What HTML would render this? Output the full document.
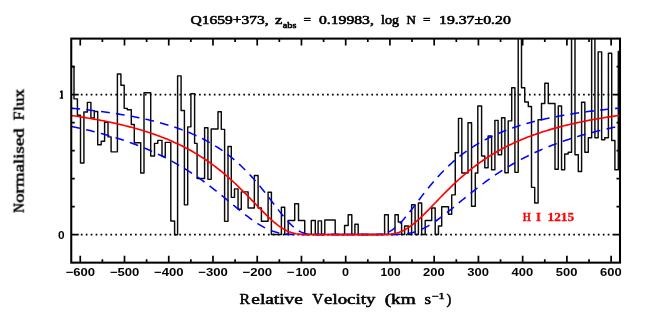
<!DOCTYPE html><html><head><meta charset="utf-8"><style>html,body{margin:0;padding:0;background:#fff}svg{display:block}</style></head><body>
<svg width="654" height="327" viewBox="0 0 654 327">
<rect width="654" height="327" fill="#fff"/>
<defs><clipPath id="c"><rect x="71.25" y="38.25" width="548.75" height="224.05"/></clipPath></defs>
<g transform="translate(0,0.35)">
<line x1="80.85" x2="609.8" y1="234.20" y2="234.20" stroke="#000" stroke-width="1.7" stroke-dasharray="1.7 3.224"/>
<line x1="80.85" x2="609.8" y1="94.20" y2="94.20" stroke="#000" stroke-width="1.7" stroke-dasharray="1.7 3.224"/>
<g clip-path="url(#c)" fill="none">
<path d="M71.25,66.10H74.00V98.50H77.40V114.80H80.50V162.60H83.90V111.70H87.40V102.00H90.90V117.50H94.30V111.10H97.70V144.30H101.20V140.90H104.60V121.90H108.00V136.50H111.10V151.50H117.40V73.60H120.90V84.90H124.20V108.00H127.30V109.30H131.30V124.20H134.30V142.30H140.70V172.70H144.00V92.40H150.70V155.60H154.50V143.00H157.80V140.00H162.00V156.00H165.30V142.00H170.80V220.60H174.60V234.30H177.60V75.50H181.10V110.20H184.40V204.50H187.70V126.50H190.90V93.40H194.60V143.00H197.10V178.20H204.60V127.30H207.90V179.00H211.20V128.70H218.00V111.40H221.30V129.00H224.60V221.00H228.00V146.10H231.30V197.00H234.50V188.50H238.05V208.80H241.30V191.50H248.10V207.60H254.35V175.20H258.10V207.60H261.40V220.90H268.10V191.90H271.40V234.20H281.40V206.80H284.70V234.20H288.20V220.10H294.70V203.30H298.50V220.10H304.75V234.20H311.30V220.10H315.30V234.20H318.10V220.50H321.50V234.20H324.80V219.60H335.20V234.20H344.60V225.10H348.20V214.40H351.80V234.20H354.90V223.90H358.20V234.20H384.60V214.40H388.30V234.20H395.00V214.40H398.30V221.60H401.60V234.20H404.60V225.60H408.40V234.20H411.60V204.30H415.10V234.20H418.40V202.60H421.65V234.20H425.20V220.10H431.70V207.60H435.20V234.20H438.45V225.60H441.70V206.30H448.50V213.90H451.70V194.50H455.25V152.40H458.50V118.00H461.80V172.70H468.00V122.30H471.55V205.80H475.30V172.70H477.80V105.70H481.60V155.60H484.80V167.40H488.10V135.60H491.60V169.40H494.90V120.00H498.10V154.40H501.60V117.30H504.90V172.40H508.20V120.50H511.70V87.40H514.90V172.00H518.20V30.00H521.50V87.40H524.75V101.70H528.30V106.20H531.50V187.00H534.70V202.60H538.10V119.30H541.50V103.20H544.80V82.90H548.30V103.20H555.00V168.90H558.30V105.70H561.55V169.40H564.70V153.60H568.20V151.90H571.55V30.00H575.00V154.40H578.30V171.20H581.60V101.90H584.85V151.90H588.30V137.30H591.65V30.00H594.90V137.30H598.15V51.50H601.65V139.30H604.80V137.30H608.40V52.90H611.70V140.10H614.90V169.40H618.30V51.00H619.80" stroke="#0a0a0a" stroke-width="1.45" stroke-linejoin="round"/>
<path d="M71.28,107.84L73.05,108.01L74.82,108.19L76.59,108.36L78.36,108.54L80.13,108.72L81.90,108.91L83.67,109.10L85.44,109.29L87.21,109.48L88.98,109.68L90.74,109.89L92.51,110.10L94.28,110.31L96.05,110.52L97.82,110.74L99.59,110.97L101.36,111.20L103.13,111.43L104.90,111.67L106.67,111.91L108.44,112.16L110.21,112.42L111.98,112.67L113.75,112.94L115.52,113.21L117.29,113.48L119.06,113.77L120.83,114.05L122.60,114.35L124.37,114.65L126.14,114.95L127.91,115.27L129.68,115.58L131.45,115.91L133.22,116.25L134.98,116.59L136.75,116.94L138.52,117.30L140.29,117.66L142.06,118.04L143.83,118.42L145.60,118.81L147.37,119.21L149.14,119.62L150.91,120.04L152.68,120.47L154.45,120.91L156.22,121.36L157.99,121.83L159.76,122.30L161.53,122.78L163.30,123.28L165.07,123.79L166.84,124.31L168.61,124.85L170.38,125.40L172.15,125.96L173.92,126.54L175.69,127.14L177.46,127.74L179.22,128.37L180.99,129.01L182.76,129.67L184.53,130.34L186.30,131.04L188.07,131.75L189.84,132.48L191.61,133.24L193.38,134.01L195.15,134.80L196.92,135.62L198.69,136.46L200.46,137.32L202.23,138.21L204.00,139.12L205.77,140.06L207.54,141.02L209.31,142.01L211.08,143.03L212.85,144.08L214.62,145.16L216.39,146.27L218.16,147.42L219.93,148.59L221.70,149.80L223.46,151.05L225.23,152.33L227.00,153.65L228.77,155.01L230.54,156.40L232.31,157.84L234.08,159.32L235.85,160.83L237.62,162.40L239.39,164.00L241.16,165.65L242.93,167.34L244.70,169.08L246.47,170.87L248.24,172.70L250.01,174.58L251.78,176.50L253.55,178.47L255.32,180.48L257.09,182.54L258.86,184.63L260.63,186.77L262.40,188.95L264.17,191.16L265.94,193.40L267.70,195.67L269.47,197.97L271.24,200.27L273.01,202.59L274.78,204.91L276.55,207.22L278.32,209.51L280.09,211.77L281.86,214.00L283.63,216.17L285.40,218.27L287.17,220.29L288.94,222.21L290.71,224.02L292.48,225.70L294.25,227.23L296.02,228.62L297.79,229.84L299.56,230.89L301.33,231.78L303.10,232.50L304.87,233.06L306.64,233.48L308.41,233.77L310.18,233.97L311.94,234.08L313.71,234.15L315.48,234.18L317.25,234.19L319.02,234.20L320.79,234.20L322.56,234.20L324.33,234.20L326.10,234.20L327.87,234.20L329.64,234.20L331.41,234.20L333.18,234.20L334.95,234.20L336.72,234.20L338.49,234.20L340.26,234.20L342.03,234.20L343.80,234.20L345.57,234.20L347.34,234.20L349.11,234.20L350.88,234.20L352.65,234.20L354.42,234.20L356.18,234.20L357.95,234.20L359.72,234.20L361.49,234.20L363.26,234.20L365.03,234.20L366.80,234.20L368.57,234.20L370.34,234.20L372.11,234.20L373.88,234.18L375.65,234.16L377.42,234.10L379.19,233.99L380.96,233.81L382.73,233.53L384.50,233.13L386.27,232.59L388.04,231.90L389.81,231.04L391.58,230.01L393.35,228.81L395.12,227.45L396.89,225.94L398.66,224.28L400.42,222.49L402.19,220.58L403.96,218.58L405.73,216.49L407.50,214.33L409.27,212.11L411.04,209.85L412.81,207.56L414.58,205.25L416.35,202.94L418.12,200.62L419.89,198.31L421.66,196.02L423.43,193.74L425.20,191.50L426.97,189.28L428.74,187.10L430.51,184.95L432.28,182.85L434.05,180.78L435.82,178.77L437.59,176.79L439.36,174.86L441.13,172.98L442.90,171.14L444.66,169.35L446.43,167.60L448.20,165.90L449.97,164.24L451.74,162.63L453.51,161.07L455.28,159.54L457.05,158.06L458.82,156.62L460.59,155.21L462.36,153.85L464.13,152.53L465.90,151.24L467.67,149.99L469.44,148.77L471.21,147.59L472.98,146.44L474.75,145.33L476.52,144.24L478.29,143.19L480.06,142.16L481.83,141.17L483.60,140.20L485.37,139.26L487.14,138.34L488.90,137.45L490.67,136.59L492.44,135.74L494.21,134.92L495.98,134.13L497.75,133.35L499.52,132.59L501.29,131.86L503.06,131.14L504.83,130.45L506.60,129.77L508.37,129.11L510.14,128.46L511.91,127.84L513.68,127.23L515.45,126.63L517.22,126.05L518.99,125.48L520.76,124.93L522.53,124.39L524.30,123.87L526.07,123.36L527.84,122.86L529.61,122.37L531.38,121.90L533.14,121.43L534.91,120.98L536.68,120.54L538.45,120.11L540.22,119.68L541.99,119.27L543.76,118.87L545.53,118.48L547.30,118.09L549.07,117.72L550.84,117.35L552.61,116.99L554.38,116.64L556.15,116.30L557.92,115.96L559.69,115.63L561.46,115.31L563.23,115.00L565.00,114.69L566.77,114.39L568.54,114.10L570.31,113.81L572.08,113.53L573.85,113.25L575.62,112.98L577.38,112.71L579.15,112.45L580.92,112.20L582.69,111.95L584.46,111.71L586.23,111.47L588.00,111.23L589.77,111.00L591.54,110.78L593.31,110.56L595.08,110.34L596.85,110.13L598.62,109.92L600.39,109.72L602.16,109.51L603.93,109.32L605.70,109.12L607.47,108.94L609.24,108.75L611.01,108.57L612.78,108.39L614.55,108.21L616.32,108.04L618.09,107.87L619.86,107.70L620.08,107.76" stroke="#0000ff" stroke-width="1.55" stroke-dasharray="8.8 6.2"/>
<path d="M71.28,126.08L73.05,126.45L74.82,126.82L76.59,127.20L78.36,127.58L80.13,127.97L81.90,128.36L83.67,128.76L85.44,129.17L87.21,129.59L88.98,130.01L90.74,130.44L92.51,130.88L94.28,131.32L96.05,131.77L97.82,132.23L99.59,132.70L101.36,133.17L103.13,133.66L104.90,134.15L106.67,134.65L108.44,135.16L110.21,135.67L111.98,136.20L113.75,136.74L115.52,137.28L117.29,137.84L119.06,138.40L120.83,138.98L122.60,139.56L124.37,140.16L126.14,140.76L127.91,141.38L129.68,142.01L131.45,142.65L133.22,143.30L134.98,143.96L136.75,144.64L138.52,145.32L140.29,146.02L142.06,146.73L143.83,147.46L145.60,148.20L147.37,148.95L149.14,149.71L150.91,150.49L152.68,151.28L154.45,152.09L156.22,152.91L157.99,153.75L159.76,154.60L161.53,155.47L163.30,156.35L165.07,157.25L166.84,158.17L168.61,159.10L170.38,160.04L172.15,161.01L173.92,161.99L175.69,162.99L177.46,164.01L179.22,165.04L180.99,166.09L182.76,167.16L184.53,168.25L186.30,169.35L188.07,170.48L189.84,171.62L191.61,172.78L193.38,173.96L195.15,175.15L196.92,176.37L198.69,177.60L200.46,178.85L202.23,180.12L204.00,181.40L205.77,182.70L207.54,184.02L209.31,185.36L211.08,186.71L212.85,188.08L214.62,189.46L216.39,190.85L218.16,192.26L219.93,193.68L221.70,195.10L223.46,196.54L225.23,197.99L227.00,199.44L228.77,200.90L230.54,202.36L232.31,203.82L234.08,205.28L235.85,206.73L237.62,208.18L239.39,209.62L241.16,211.05L242.93,212.47L244.70,213.86L246.47,215.24L248.24,216.59L250.01,217.91L251.78,219.21L253.55,220.46L255.32,221.68L257.09,222.85L258.86,223.98L260.63,225.05L262.40,226.07L264.17,227.04L265.94,227.94L267.70,228.78L269.47,229.56L271.24,230.27L273.01,230.91L274.78,231.48L276.55,231.99L278.32,232.44L280.09,232.82L281.86,233.14L283.63,233.40L285.40,233.61L287.17,233.78L288.94,233.91L290.71,234.01L292.48,234.08L294.25,234.13L296.02,234.16L297.79,234.18L299.56,234.19L301.33,234.19L303.10,234.20L304.87,234.20L306.64,234.20L308.41,234.20L310.18,234.20L311.94,234.20L313.71,234.20L315.48,234.20L317.25,234.20L319.02,234.20L320.79,234.20L322.56,234.20L324.33,234.20L326.10,234.20L327.87,234.20L329.64,234.20L331.41,234.20L333.18,234.20L334.95,234.20L336.72,234.20L338.49,234.20L340.26,234.20L342.03,234.20L343.80,234.20L345.57,234.20L347.34,234.20L349.11,234.20L350.88,234.20L352.65,234.20L354.42,234.20L356.18,234.20L357.95,234.20L359.72,234.20L361.49,234.20L363.26,234.20L365.03,234.20L366.80,234.20L368.57,234.20L370.34,234.20L372.11,234.20L373.88,234.20L375.65,234.20L377.42,234.20L379.19,234.20L380.96,234.20L382.73,234.20L384.50,234.20L386.27,234.20L388.04,234.20L389.81,234.19L391.58,234.18L393.35,234.16L395.12,234.13L396.89,234.09L398.66,234.02L400.42,233.93L402.19,233.81L403.96,233.64L405.73,233.44L407.50,233.18L409.27,232.87L411.04,232.50L412.81,232.06L414.58,231.57L416.35,231.00L418.12,230.37L419.89,229.67L421.66,228.90L423.43,228.07L425.20,227.18L426.97,226.22L428.74,225.21L430.51,224.14L432.28,223.02L434.05,221.86L435.82,220.65L437.59,219.40L439.36,218.11L441.13,216.79L442.90,215.44L444.66,214.07L446.43,212.68L448.20,211.27L449.97,209.84L451.74,208.40L453.51,206.95L455.28,205.50L457.05,204.04L458.82,202.58L460.59,201.12L462.36,199.66L464.13,198.21L465.90,196.76L467.67,195.32L469.44,193.89L471.21,192.47L472.98,191.06L474.75,189.67L476.52,188.28L478.29,186.91L480.06,185.56L481.83,184.22L483.60,182.90L485.37,181.60L487.14,180.31L488.90,179.04L490.67,177.78L492.44,176.55L494.21,175.33L495.98,174.13L497.75,172.95L499.52,171.79L501.29,170.65L503.06,169.52L504.83,168.41L506.60,167.32L508.37,166.25L510.14,165.20L511.91,164.16L513.68,163.14L515.45,162.14L517.22,161.16L518.99,160.19L520.76,159.24L522.53,158.30L524.30,157.39L526.07,156.49L527.84,155.60L529.61,154.73L531.38,153.88L533.14,153.04L534.91,152.21L536.68,151.40L538.45,150.61L540.22,149.83L541.99,149.06L543.76,148.31L545.53,147.57L547.30,146.84L549.07,146.13L550.84,145.43L552.61,144.74L554.38,144.06L556.15,143.40L557.92,142.75L559.69,142.10L561.46,141.47L563.23,140.86L565.00,140.25L566.77,139.65L568.54,139.06L570.31,138.49L572.08,137.92L573.85,137.37L575.62,136.82L577.38,136.28L579.15,135.75L580.92,135.23L582.69,134.72L584.46,134.22L586.23,133.73L588.00,133.25L589.77,132.77L591.54,132.30L593.31,131.84L595.08,131.39L596.85,130.94L598.62,130.50L600.39,130.07L602.16,129.65L603.93,129.23L605.70,128.82L607.47,128.42L609.24,128.03L611.01,127.64L612.78,127.25L614.55,126.88L616.32,126.50L618.09,126.14L619.86,125.78L620.08,125.91" stroke="#0000ff" stroke-width="1.55" stroke-dasharray="8.8 6.4"/>
<path d="M71.28,115.16L73.05,115.41L74.82,115.67L76.59,115.93L78.36,116.19L80.13,116.46L81.90,116.74L83.67,117.02L85.44,117.30L87.21,117.60L88.98,117.89L90.74,118.19L92.51,118.50L94.28,118.81L96.05,119.13L97.82,119.45L99.59,119.78L101.36,120.12L103.13,120.46L104.90,120.81L106.67,121.17L108.44,121.53L110.21,121.90L111.98,122.28L113.75,122.66L115.52,123.05L117.29,123.45L119.06,123.86L120.83,124.28L122.60,124.70L124.37,125.13L126.14,125.58L127.91,126.03L129.68,126.49L131.45,126.96L133.22,127.44L134.98,127.92L136.75,128.42L138.52,128.93L140.29,129.45L142.06,129.98L143.83,130.53L145.60,131.08L147.37,131.65L149.14,132.23L150.91,132.82L152.68,133.42L154.45,134.04L156.22,134.67L157.99,135.31L159.76,135.97L161.53,136.64L163.30,137.33L165.07,138.03L166.84,138.75L168.61,139.49L170.38,140.24L172.15,141.01L173.92,141.80L175.69,142.60L177.46,143.42L179.22,144.26L180.99,145.12L182.76,146.00L184.53,146.90L186.30,147.83L188.07,148.77L189.84,149.73L191.61,150.72L193.38,151.73L195.15,152.76L196.92,153.81L198.69,154.89L200.46,156.00L202.23,157.12L204.00,158.28L205.77,159.46L207.54,160.67L209.31,161.90L211.08,163.16L212.85,164.45L214.62,165.77L216.39,167.12L218.16,168.49L219.93,169.89L221.70,171.33L223.46,172.79L225.23,174.28L227.00,175.80L228.77,177.35L230.54,178.92L232.31,180.53L234.08,182.16L235.85,183.82L237.62,185.50L239.39,187.21L241.16,188.95L242.93,190.70L244.70,192.48L246.47,194.27L248.24,196.08L250.01,197.91L251.78,199.74L253.55,201.58L255.32,203.43L257.09,205.27L258.86,207.10L260.63,208.93L262.40,210.74L264.17,212.53L265.94,214.29L267.70,216.01L269.47,217.69L271.24,219.32L273.01,220.90L274.78,222.41L276.55,223.84L278.32,225.20L280.09,226.47L281.86,227.65L283.63,228.73L285.40,229.70L287.17,230.57L288.94,231.33L290.71,231.98L292.48,232.53L294.25,232.98L296.02,233.34L297.79,233.62L299.56,233.83L301.33,233.97L303.10,234.07L304.87,234.13L306.64,234.17L308.41,234.19L310.18,234.19L311.94,234.20L313.71,234.20L315.48,234.20L317.25,234.20L319.02,234.20L320.79,234.20L322.56,234.20L324.33,234.20L326.10,234.20L327.87,234.20L329.64,234.20L331.41,234.20L333.18,234.20L334.95,234.20L336.72,234.20L338.49,234.20L340.26,234.20L342.03,234.20L343.80,234.20L345.57,234.20L347.34,234.20L349.11,234.20L350.88,234.20L352.65,234.20L354.42,234.20L356.18,234.20L357.95,234.20L359.72,234.20L361.49,234.20L363.26,234.20L365.03,234.20L366.80,234.20L368.57,234.20L370.34,234.20L372.11,234.20L373.88,234.20L375.65,234.20L377.42,234.20L379.19,234.20L380.96,234.19L382.73,234.17L384.50,234.14L386.27,234.08L388.04,233.99L389.81,233.85L391.58,233.66L393.35,233.39L395.12,233.04L396.89,232.61L398.66,232.07L400.42,231.43L402.19,230.69L403.96,229.84L405.73,228.88L407.50,227.82L409.27,226.65L411.04,225.40L412.81,224.05L414.58,222.63L416.35,221.13L418.12,219.56L419.89,217.94L421.66,216.27L423.43,214.55L425.20,212.79L426.97,211.01L428.74,209.20L430.51,207.38L432.28,205.54L434.05,203.70L435.82,201.86L437.59,200.02L439.36,198.18L441.13,196.36L442.90,194.54L444.66,192.75L446.43,190.97L448.20,189.21L449.97,187.47L451.74,185.76L453.51,184.07L455.28,182.41L457.05,180.77L458.82,179.16L460.59,177.58L462.36,176.03L464.13,174.50L465.90,173.01L467.67,171.54L469.44,170.11L471.21,168.70L472.98,167.32L474.75,165.97L476.52,164.65L478.29,163.35L480.06,162.09L481.83,160.85L483.60,159.64L485.37,158.45L487.14,157.30L488.90,156.16L490.67,155.06L492.44,153.97L494.21,152.91L495.98,151.88L497.75,150.87L499.52,149.88L501.29,148.91L503.06,147.97L504.83,147.04L506.60,146.14L508.37,145.25L510.14,144.39L511.91,143.55L513.68,142.72L515.45,141.92L517.22,141.13L518.99,140.36L520.76,139.60L522.53,138.86L524.30,138.14L526.07,137.44L527.84,136.75L529.61,136.07L531.38,135.41L533.14,134.76L534.91,134.13L536.68,133.51L538.45,132.91L540.22,132.31L541.99,131.73L543.76,131.17L545.53,130.61L547.30,130.07L549.07,129.53L550.84,129.01L552.61,128.50L554.38,128.00L556.15,127.51L557.92,127.03L559.69,126.56L561.46,126.10L563.23,125.64L565.00,125.20L566.77,124.77L568.54,124.34L570.31,123.92L572.08,123.51L573.85,123.11L575.62,122.72L577.38,122.33L579.15,121.96L580.92,121.59L582.69,121.22L584.46,120.86L586.23,120.51L588.00,120.17L589.77,119.83L591.54,119.50L593.31,119.18L595.08,118.86L596.85,118.54L598.62,118.24L600.39,117.94L602.16,117.64L603.93,117.35L605.70,117.06L607.47,116.78L609.24,116.51L611.01,116.23L612.78,115.97L614.55,115.71L616.32,115.45L618.09,115.20L619.86,114.95L620.08,115.04" stroke="#ff0000" stroke-width="1.65"/>
</g>
<path d="M80.26,262.3v-7M80.26,38.25v7M102.38,262.3v-3.5M102.38,38.25v3.5M124.50,262.3v-7M124.50,38.25v7M146.62,262.3v-3.5M146.62,38.25v3.5M168.74,262.3v-7M168.74,38.25v7M190.86,262.3v-3.5M190.86,38.25v3.5M212.98,262.3v-7M212.98,38.25v7M235.10,262.3v-3.5M235.10,38.25v3.5M257.22,262.3v-7M257.22,38.25v7M279.34,262.3v-3.5M279.34,38.25v3.5M301.46,262.3v-7M301.46,38.25v7M323.58,262.3v-3.5M323.58,38.25v3.5M345.70,262.3v-7M345.70,38.25v7M367.82,262.3v-3.5M367.82,38.25v3.5M389.94,262.3v-7M389.94,38.25v7M412.06,262.3v-3.5M412.06,38.25v3.5M434.18,262.3v-7M434.18,38.25v7M456.30,262.3v-3.5M456.30,38.25v3.5M478.42,262.3v-7M478.42,38.25v7M500.54,262.3v-3.5M500.54,38.25v3.5M522.66,262.3v-7M522.66,38.25v7M544.78,262.3v-3.5M544.78,38.25v3.5M566.90,262.3v-7M566.90,38.25v7M589.02,262.3v-3.5M589.02,38.25v3.5M611.14,262.3v-7M611.14,38.25v7M71.25,234.20h7.5M620.0,234.20h-7.5M71.25,206.20h3.5M620.0,206.20h-3.5M71.25,178.20h3.5M620.0,178.20h-3.5M71.25,150.20h3.5M620.0,150.20h-3.5M71.25,122.20h3.5M620.0,122.20h-3.5M71.25,94.20h7.5M620.0,94.20h-7.5M71.25,66.20h3.5M620.0,66.20h-3.5" stroke="#000" stroke-width="1.7" fill="none"/>
<rect x="71.25" y="38.25" width="548.75" height="224.05" fill="none" stroke="#000" stroke-width="2.05"/>
</g>
<g opacity="0.999">
<text x="65.66" y="276.3" font-family="Liberation Sans" font-weight="bold" font-size="11.0" fill="#000" text-anchor="start" textLength="29.5" lengthAdjust="spacingAndGlyphs">−600</text>
<text x="109.90" y="276.3" font-family="Liberation Sans" font-weight="bold" font-size="11.0" fill="#000" text-anchor="start" textLength="29.5" lengthAdjust="spacingAndGlyphs">−500</text>
<text x="154.14" y="276.3" font-family="Liberation Sans" font-weight="bold" font-size="11.0" fill="#000" text-anchor="start" textLength="29.5" lengthAdjust="spacingAndGlyphs">−400</text>
<text x="198.38" y="276.3" font-family="Liberation Sans" font-weight="bold" font-size="11.0" fill="#000" text-anchor="start" textLength="29.5" lengthAdjust="spacingAndGlyphs">−300</text>
<text x="242.62" y="276.3" font-family="Liberation Sans" font-weight="bold" font-size="11.0" fill="#000" text-anchor="start" textLength="29.5" lengthAdjust="spacingAndGlyphs">−200</text>
<text x="286.86" y="276.3" font-family="Liberation Sans" font-weight="bold" font-size="11.0" fill="#000" text-anchor="start" textLength="7.7" lengthAdjust="spacingAndGlyphs">−</text>
<text x="295.61" y="276.3" font-family="Liberation Sans" font-weight="bold" font-size="11.0" fill="#000" text-anchor="start" textLength="20.9" lengthAdjust="spacingAndGlyphs">100</text>
<text x="342.00" y="276.3" font-family="Liberation Sans" font-weight="bold" font-size="11.0" fill="#000" text-anchor="start" textLength="7.0" lengthAdjust="spacingAndGlyphs">0</text>
<text x="380.64" y="276.3" font-family="Liberation Sans" font-weight="bold" font-size="11.0" fill="#000" text-anchor="start" textLength="19.9" lengthAdjust="spacingAndGlyphs">100</text>
<text x="423.08" y="276.3" font-family="Liberation Sans" font-weight="bold" font-size="11.0" fill="#000" text-anchor="start" textLength="21.6" lengthAdjust="spacingAndGlyphs">200</text>
<text x="467.32" y="276.3" font-family="Liberation Sans" font-weight="bold" font-size="11.0" fill="#000" text-anchor="start" textLength="21.6" lengthAdjust="spacingAndGlyphs">300</text>
<text x="511.56" y="276.3" font-family="Liberation Sans" font-weight="bold" font-size="11.0" fill="#000" text-anchor="start" textLength="21.6" lengthAdjust="spacingAndGlyphs">400</text>
<text x="555.80" y="276.3" font-family="Liberation Sans" font-weight="bold" font-size="11.0" fill="#000" text-anchor="start" textLength="21.6" lengthAdjust="spacingAndGlyphs">500</text>
<text x="600.04" y="276.3" font-family="Liberation Sans" font-weight="bold" font-size="11.0" fill="#000" text-anchor="start" textLength="21.6" lengthAdjust="spacingAndGlyphs">600</text>
<text x="58.0" y="238.5" font-family="Liberation Sans" font-weight="bold" font-size="11.0" fill="#000" text-anchor="start" textLength="6.6" lengthAdjust="spacingAndGlyphs">0</text>
<path d="M61,90.5h1.7v6.9h0.4v1.3h-3.4v-1.3h1.3v-4.9h-1.1v-0.9z" fill="#000"/>
<text x="190.5" y="24.3" font-family="Liberation Serif" font-weight="normal" stroke="#000" stroke-width="0.55" stroke-linejoin="round" font-size="11.7" fill="#000" text-anchor="start" textLength="78.2" lengthAdjust="spacingAndGlyphs">Q1659+373,</text>
<text x="275.0" y="24.3" font-family="Liberation Serif" font-weight="normal" stroke="#000" stroke-width="0.55" stroke-linejoin="round" font-size="11.7" fill="#000" text-anchor="start" textLength="7.3" lengthAdjust="spacingAndGlyphs">z</text>
<text x="282.7" y="27.9" font-family="Liberation Serif" font-weight="normal" stroke="#000" stroke-width="0.55" stroke-linejoin="round" font-size="8.3" fill="#000" text-anchor="start" textLength="13.7" lengthAdjust="spacingAndGlyphs">abs</text>
<text x="303.6" y="24.3" font-family="Liberation Serif" font-weight="normal" stroke="#000" stroke-width="0.55" stroke-linejoin="round" font-size="11.7" fill="#000" text-anchor="start" textLength="7.5" lengthAdjust="spacingAndGlyphs">=</text>
<text x="319.0" y="24.3" font-family="Liberation Serif" font-weight="normal" stroke="#000" stroke-width="0.55" stroke-linejoin="round" font-size="11.7" fill="#000" text-anchor="start" textLength="54.8" lengthAdjust="spacingAndGlyphs">0.19983,</text>
<text x="381" y="24.3" font-family="Liberation Serif" font-weight="normal" stroke="#000" stroke-width="0.55" stroke-linejoin="round" font-size="11.7" fill="#000" text-anchor="start" textLength="18" lengthAdjust="spacingAndGlyphs">log</text>
<text x="406.6" y="24.3" font-family="Liberation Serif" font-weight="normal" stroke="#000" stroke-width="0.55" stroke-linejoin="round" font-size="11.7" fill="#000" text-anchor="start" textLength="9.4" lengthAdjust="spacingAndGlyphs">N</text>
<text x="423" y="24.3" font-family="Liberation Serif" font-weight="normal" stroke="#000" stroke-width="0.55" stroke-linejoin="round" font-size="11.7" fill="#000" text-anchor="start" textLength="7.5" lengthAdjust="spacingAndGlyphs">=</text>
<text x="439.0" y="24.3" font-family="Liberation Serif" font-weight="normal" stroke="#000" stroke-width="0.55" stroke-linejoin="round" font-size="11.7" fill="#000" text-anchor="start" textLength="71.8" lengthAdjust="spacingAndGlyphs">19.37±0.20</text>
<text x="239.4" y="303.8" font-family="Liberation Serif" font-weight="normal" stroke="#000" stroke-width="0.55" stroke-linejoin="round" font-size="15.1" fill="#000" text-anchor="start" textLength="10.5" lengthAdjust="spacingAndGlyphs">R</text>
<text x="251.3" y="303.8" font-family="Liberation Serif" font-weight="normal" stroke="#000" stroke-width="0.55" stroke-linejoin="round" font-size="15.1" fill="#000" text-anchor="start" textLength="51.6" lengthAdjust="spacingAndGlyphs">elative</text>
<text x="312.2" y="303.8" font-family="Liberation Serif" font-weight="normal" stroke="#000" stroke-width="0.55" stroke-linejoin="round" font-size="15.1" fill="#000" text-anchor="start" textLength="11.1" lengthAdjust="spacingAndGlyphs">V</text>
<text x="324.0" y="303.8" font-family="Liberation Serif" font-weight="normal" stroke="#000" stroke-width="0.55" stroke-linejoin="round" font-size="15.1" fill="#000" text-anchor="start" textLength="51.4" lengthAdjust="spacingAndGlyphs">elocity</text>
<text x="384.7" y="303.8" font-family="Liberation Serif" font-weight="normal" stroke="#000" stroke-width="0.55" stroke-linejoin="round" font-size="15.1" fill="#000" text-anchor="start" textLength="31.1" lengthAdjust="spacingAndGlyphs">(km</text>
<text x="424.4" y="303.8" font-family="Liberation Serif" font-weight="normal" stroke="#000" stroke-width="0.55" stroke-linejoin="round" font-size="15.1" fill="#000" text-anchor="start" textLength="6.5" lengthAdjust="spacingAndGlyphs">s</text>
<text x="431.5" y="298.5" font-family="Liberation Serif" font-weight="normal" stroke="#000" stroke-width="0.55" stroke-linejoin="round" font-size="9" fill="#000" text-anchor="start" textLength="13" lengthAdjust="spacingAndGlyphs">−1</text>
<text x="446.6" y="303.8" font-family="Liberation Serif" font-weight="normal" stroke="#000" stroke-width="0.55" stroke-linejoin="round" font-size="15.1" fill="#000" text-anchor="start" textLength="4.8" lengthAdjust="spacingAndGlyphs">)</text>
<g transform="translate(23.7,212.8) rotate(-90)"><text x="0" y="0" font-family="Liberation Serif" font-weight="normal" stroke="#000" stroke-width="0.55" stroke-linejoin="round" font-size="15.6" fill="#000" text-anchor="start" textLength="9.7" lengthAdjust="spacingAndGlyphs">N</text><text x="9.9" y="0" font-family="Liberation Serif" font-weight="normal" stroke="#000" stroke-width="0.55" stroke-linejoin="round" font-size="15.6" fill="#000" text-anchor="start" textLength="74.7" lengthAdjust="spacingAndGlyphs">ormalised</text><text x="92.4" y="0" font-family="Liberation Serif" font-weight="normal" stroke="#000" stroke-width="0.55" stroke-linejoin="round" font-size="15.6" fill="#000" text-anchor="start" textLength="8.8" lengthAdjust="spacingAndGlyphs">F</text><text x="101.9" y="0" font-family="Liberation Serif" font-weight="normal" stroke="#000" stroke-width="0.55" stroke-linejoin="round" font-size="15.6" fill="#000" text-anchor="start" textLength="21.8" lengthAdjust="spacingAndGlyphs">lux</text></g>
<text x="522.8" y="221.2" font-family="Liberation Serif" font-weight="bold" stroke="#ff0000" stroke-width="0.3" stroke-linejoin="round" font-size="12.6" fill="#ff0000" text-anchor="start" textLength="8.1" lengthAdjust="spacingAndGlyphs">H</text>
<text x="536.0" y="221.2" font-family="Liberation Serif" font-weight="bold" stroke="#ff0000" stroke-width="0.3" stroke-linejoin="round" font-size="12.6" fill="#ff0000" text-anchor="start" textLength="5.0" lengthAdjust="spacingAndGlyphs">I</text>
<text x="547.5" y="221.2" font-family="Liberation Serif" font-weight="bold" stroke="#ff0000" stroke-width="0.3" stroke-linejoin="round" font-size="12.6" fill="#ff0000" text-anchor="start" textLength="26.6" lengthAdjust="spacingAndGlyphs">1215</text>
</g>
</svg></body></html>
